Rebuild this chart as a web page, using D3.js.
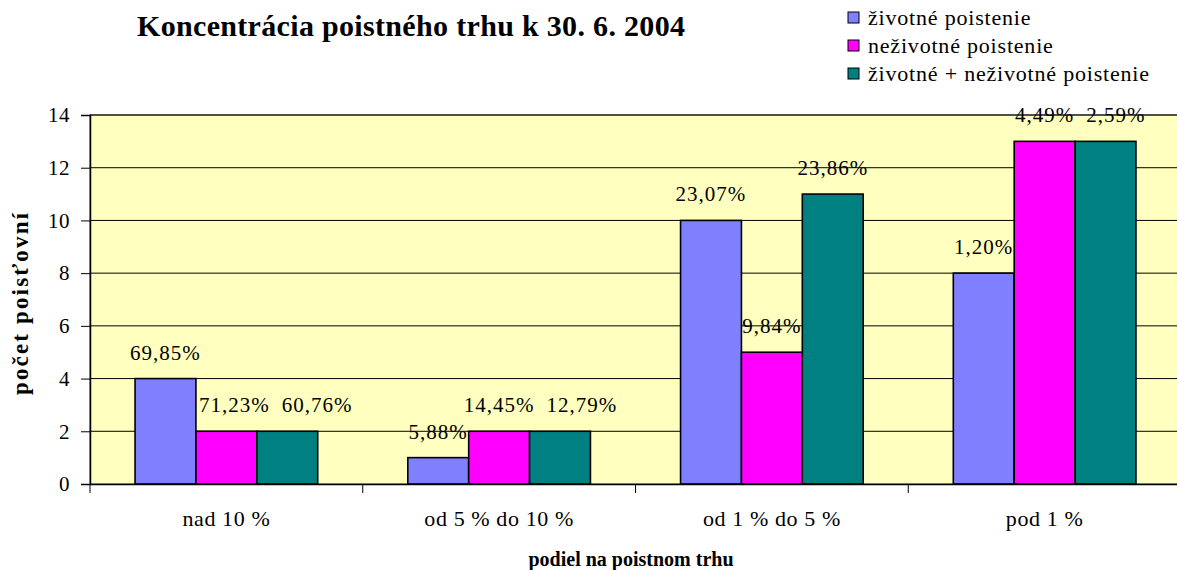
<!DOCTYPE html>
<html>
<head>
<meta charset="utf-8">
<script src="https://cdn.jsdelivr.net/npm/d3@7"></script>
<style>
  body { margin: 0; background: #fff; }
  text { font-family: "Liberation Serif", "Times New Roman", serif; fill: #000; }
</style>
</head>
<body>
<svg id="mainsvg" width="1177" height="570"></svg>
<script>
// data
const categories = ["nad 10 %", "od 5 % do 10 %", "od 1 % do 5 %", "pod 1 %"]
const seriesNames = ["životné poistenie", "neživotné poistenie", "životné + neživotné poistenie"]
const seriesColors = ["#8080FF", "#FF00FF", "#008080"]
const zivotne = [4, 1, 10, 8]
const nezivotne = [2, 2, 5, 13]
const spolu = [2, 2, 11, 13]
const zivotneLabels = ["69,85%", "5,88%", "23,07%", "1,20%"]
const nezivotneLabels = ["71,23%", "14,45%", "9,84%", "4,49%"]
const spoluLabels = ["60,76%", "12,79%", "23,86%", "2,59%"]
const yTicks = [0, 2, 4, 6, 8, 10, 12, 14]

const MARGIN = { left: 90, top: 115, right: -4, bottom: 86 }
const WIDTH = 1177 - MARGIN.left - MARGIN.right
const HEIGHT = 570 - MARGIN.top - MARGIN.bottom
const SERIF = "Liberation Serif"

let svg = d3.select("#mainsvg")

let x0 = d3.scaleBand().domain(categories).range([MARGIN.left, MARGIN.left + WIDTH]).padding(0)
let x1 = d3.scaleBand().domain([0, 1, 2]).range([0, x0.bandwidth()]).paddingInner(0).paddingOuter(0.74)
let y = d3.scaleLinear().domain([0, 14]).range([MARGIN.top + HEIGHT, MARGIN.top])

// plot background
svg.append("rect")
  .attr("x", MARGIN.left).attr("y", MARGIN.top)
  .attr("width", WIDTH).attr("height", HEIGHT)
  .attr("fill", "#FFFFC0")
  .attr("stroke", "#808080").attr("stroke-width", 1.5)

// gridlines
svg.append("g").selectAll("line")
  .data(yTicks.filter(d => d > 0))
  .enter().append("line")
  .attr("x1", MARGIN.left).attr("x2", MARGIN.left + WIDTH)
  .attr("y1", d => y(d)).attr("y2", d => y(d))
  .attr("stroke", "#000").attr("stroke-width", 1)

// bars
const series = [zivotne, nezivotne, spolu]
const labels = [zivotneLabels, nezivotneLabels, spoluLabels]
let rows = []
categories.forEach((c, ci) => series.forEach((s, si) => rows.push({ si: si, cat: c, v: s[ci], label: labels[si][ci] })))

const barLeft = d => x0(d.cat) + x1(d.si)
const barRight = d => barLeft(d) + x1.bandwidth()

let bars = svg.append("g").attr("id", "bars")
bars.selectAll("rect")
  .data(rows)
  .enter().append("rect")
  .attr("x", d => barLeft(d))
  .attr("y", d => y(d.v))
  .attr("width", x1.bandwidth())
  .attr("height", d => y(0) - y(d.v))
  .attr("fill", d => seriesColors[d.si])
  .attr("stroke", "#000").attr("stroke-width", 1.6)

// data labels, nudged sideways where they run into a neighbouring bar or label
const LABEL_GAP = 19
let lbls = bars.selectAll("text")
  .data(rows)
  .enter().append("text")
  .attr("y", d => y(d.v) - LABEL_GAP)
  .style("font-size", "21px")
  .style("letter-spacing", "1px")
  .text(d => d.label)

lbls.each(function (d) { d.w = this.getComputedTextLength() })

categories.forEach(cat => {
  let group = rows.filter(r => r.cat === cat)
  group.forEach((r, i) => {
    let base = y(r.v) - LABEL_GAP
    let left = (barLeft(r) + barRight(r)) / 2 - r.w / 2
    let prev = group[i - 1], next = group[i + 1]
    if (prev && y(prev.v) < base && left < barRight(prev)) left = barRight(prev) + 3
    if (next && y(next.v) < base && left + r.w > barLeft(next) + 1) left = barLeft(next) - 7 - r.w
    if (prev && Math.abs((y(prev.v) - LABEL_GAP) - base) < 16 && left < prev.lx + prev.w + 12) left = prev.lx + prev.w + 12
    r.lx = left
  })
})
lbls.attr("x", d => d.lx)

// y axis
let yAxis = svg.append("g")
  .attr("transform", `translate(${MARGIN.left},0)`)
  .call(d3.axisLeft(y).tickValues(yTicks).tickSize(9).tickPadding(11))
yAxis.select(".domain").attr("stroke", "#000").attr("stroke-width", 1.5)
yAxis.selectAll(".tick line").attr("stroke", "#000")
yAxis.selectAll("text").style("font-size", "21px").style("font-family", SERIF).style("letter-spacing", "0.5px")

// x axis
let xAxis = svg.append("g")
  .attr("transform", `translate(0,${y(0)})`)
  .call(d3.axisBottom(x0).tickSize(0).tickPadding(26))
xAxis.select(".domain").attr("stroke", "#000").attr("stroke-width", 1.5)
xAxis.selectAll("text").style("font-size", "22px").style("font-family", SERIF).style("letter-spacing", "0.6px")
xAxis.selectAll(".bound")
  .data(categories)
  .enter().append("line")
  .attr("class", "bound")
  .attr("x1", d => x0(d)).attr("x2", d => x0(d))
  .attr("y1", 0).attr("y2", 9)
  .attr("stroke", "#000")

// titles
svg.append("text")
  .attr("x", 411).attr("y", 36)
  .attr("text-anchor", "middle")
  .attr("textLength", 548).attr("lengthAdjust", "spacing")
  .style("font-size", "30px").style("font-weight", "bold")
  .text("Koncentrácia poistného trhu k 30. 6. 2004")

svg.append("text")
  .attr("x", 631).attr("y", 566)
  .attr("text-anchor", "middle")
  .style("font-size", "20px").style("font-weight", "bold")
  .text("podiel na poistnom trhu")

svg.append("text")
  .attr("transform", `translate(28, 304) rotate(-90)`)
  .attr("text-anchor", "middle")
  .attr("textLength", 182).attr("lengthAdjust", "spacing")
  .style("font-size", "23px").style("font-weight", "bold")
  .text("počet poisťovní")

// legend
let legend = svg.append("g").attr("transform", "translate(848, 0)")
let items = legend.selectAll("g")
  .data(seriesNames)
  .enter().append("g")
  .attr("transform", (d, i) => `translate(0, ${25 + i * 28})`)
items.append("rect")
  .attr("x", 0).attr("y", -13)
  .attr("width", 11).attr("height", 11)
  .attr("fill", (d, i) => seriesColors[i])
  .attr("stroke", "#000").attr("stroke-width", 1)
items.append("text")
  .attr("x", 20).attr("y", 0)
  .style("font-size", "22px")
  .style("letter-spacing", "0.8px")
  .text(d => d)
</script>
</body>
</html>
